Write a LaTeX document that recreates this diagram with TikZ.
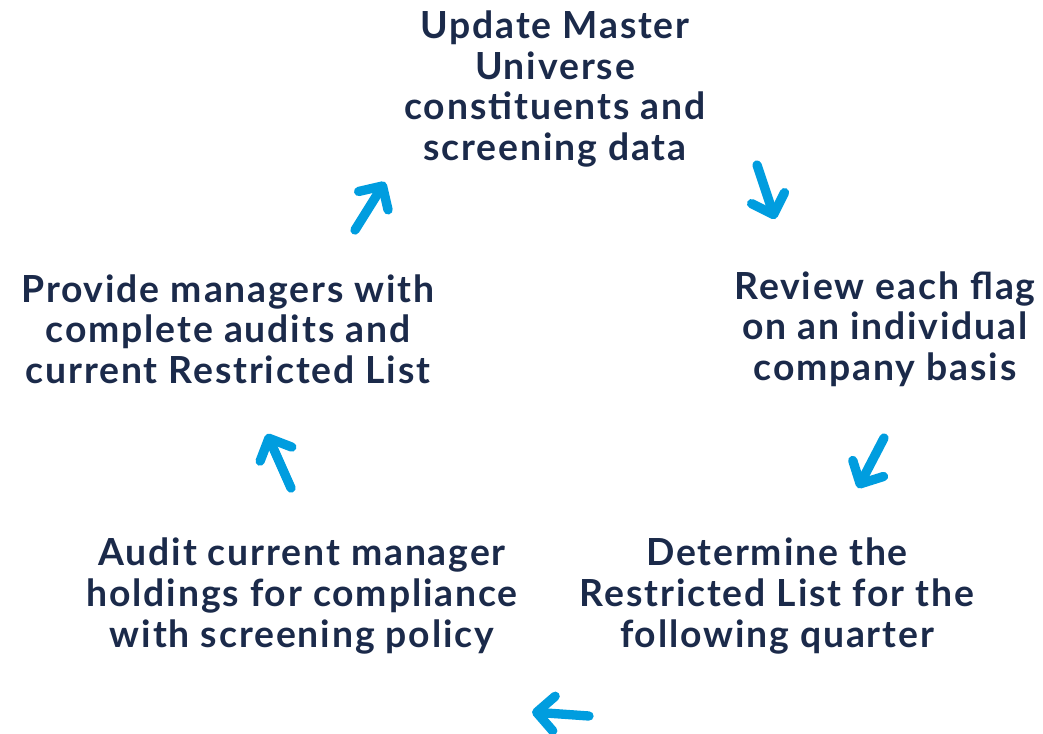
\documentclass[tikz,border=0pt]{standalone}
\usepackage{fontspec}
\setmainfont{Lato}[LetterSpace=5]
\usepackage{xcolor}
\usetikzlibrary{arrows.meta, positioning}
\definecolor{navy}{RGB}{27,42,74}
\definecolor{cyc}{RGB}{0,157,223}
\tikzset{
  % Cycle arrow style
  carr/.style={
    line width = 7pt,
    draw = cyc,
    line cap = round,
    -{Straight Barb[length=13pt, width=26pt, round]}
  },
}

\begin{document}
\begin{tikzpicture}
          [x=0.75pt, y=-0.75pt
          , txt/.style={text=navy, align=center, inner sep=0pt
                       , font=\fontsize{28}{30.5}\selectfont\bfseries}
          ]
          \useasboundingbox (0,0) rectangle (1043,733);

          \node (upd) [txt] at (555,89)
                            {Update Master\\Universe\\constituents and\\screening data};
          \node (rev) [txt] at (885,329)
                            {Review each flag\\on an individual\\company basis};
          \node (det) [txt] at (777,596)
                            {Determine the\\Restricted List for the\\following quarter};
          \node (aud) [txt] at (302,596)
                            {Audit current manager\\holdings for compliance\\with screening policy};
          \node (prov) [txt] at (228,329)
                            {Provide managers with\\complete audits and\\current Restricted List};

          % arrow ends
          \coordinate (a1s) at (757,165);
          \coordinate (a1e) at (775,219);
          \coordinate (a2s) at (884,438);
          \coordinate (a2e) at (858,488);
          \coordinate (a3s) at (589,716);
          \coordinate (a3e) at (532,712);
          \coordinate (a4s) at (291,488);
          \coordinate (a4e) at (267,434);
          \coordinate (a5s) at (355,230);
          \coordinate (a5e) at (385,182);

          \draw[carr] (a1s) -- (a1e);
          \draw[carr] (a2s) -- (a2e);
          \draw[carr] (a3s) -- (a3e);
          \draw[carr] (a4s) -- (a4e);
          \draw[carr] (a5s) -- (a5e);
      \end{tikzpicture}
\end{document}
